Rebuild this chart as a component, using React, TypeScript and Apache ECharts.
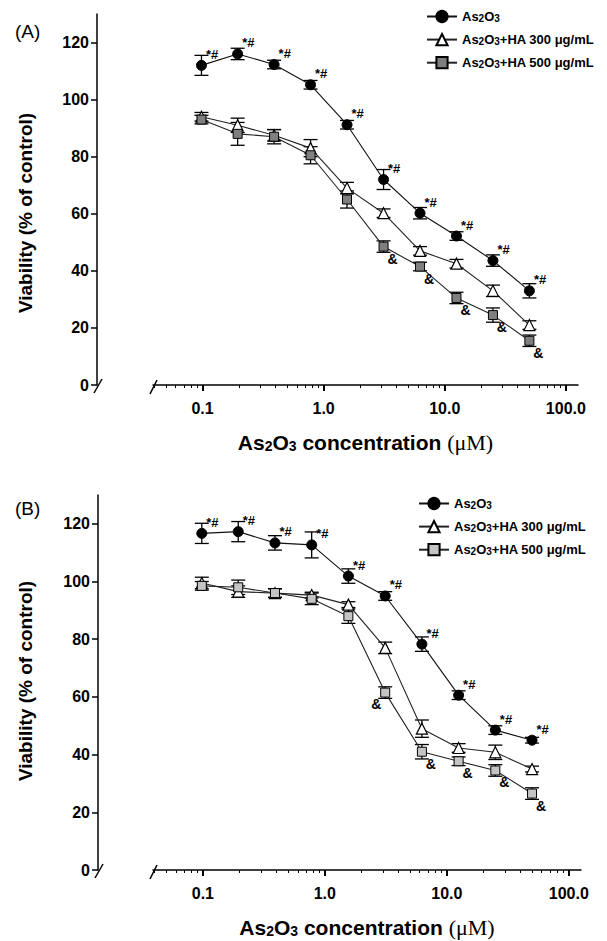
import React, { useEffect, useRef } from "react";
import * as echarts from "echarts";

// ---------- data ----------
const CONC = [0.098, 0.195, 0.39, 0.78, 1.56, 3.125, 6.25, 12.5, 25, 50];

const A_AS2O3 = [112, 116, 112.3, 105.2, 91.2, 72, 60.2, 52.2, 43.6, 33];
const A_AS2O3_ERR = [3.5, 2, 1.5, 1.5, 1.5, 3.5, 2, 1.5, 2, 2.5];
const A_HA300 = [94, 91, 87.5, 83, 69, 60.2, 47, 42.5, 33, 21];
const A_HA300_ERR = [1.5, 2.5, 2, 3, 2, 1.5, 1.5, 1.5, 2, 1.5];
const A_HA500 = [93, 88, 87, 80.5, 65, 48.5, 41.5, 30.5, 24.5, 15.5];
const A_HA500_ERR = [1.5, 4, 2.5, 3, 3, 2, 1.5, 2, 2.5, 2];

const B_AS2O3 = [116.7, 117.3, 113.4, 112.7, 101.9, 95, 78.3, 60.6, 48.5, 45];
const B_AS2O3_ERR = [3.5, 3.5, 2.5, 4.5, 2.5, 1.5, 2.5, 1.5, 1.5, 1];
const B_HA300 = [99.5, 96.5, 96, 95.3, 92, 77, 49, 42.3, 40.8, 35];
const B_HA300_ERR = [2, 2, 1.5, 1, 1, 2, 3, 1.5, 2.5, 1];
const B_HA500 = [98.5, 98, 96, 94, 88, 61.5, 41, 37.7, 34.5, 26.5];
const B_HA500_ERR = [1.5, 2.5, 1.5, 2, 2.5, 2, 2.5, 1.5, 2, 2];

// marks: which points carry "*#" / "&"
const STAR_MARK = [1, 1, 1, 1, 1, 1, 1, 1, 1, 1];
const AMP_MARK = [0, 0, 0, 0, 0, 1, 1, 1, 1, 1];

const Y_TICKS = [0, 20, 40, 60, 80, 100, 120];
const X_TICKS = [0.1, 1, 10, 100];
const X_MINOR_TICKS = [
  0.04, 0.05, 0.06, 0.07, 0.08, 0.09,
  0.2, 0.3, 0.4, 0.5, 0.6, 0.7, 0.8, 0.9,
  2, 3, 4, 5, 6, 7, 8, 9,
  20, 30, 40, 50, 60, 70, 80, 90,
];

const LEGEND_LABELS = [
  "As{s|2}O{s|3}",
  "As{s|2}O{s|3}+HA 300 μg/mL",
  "As{s|2}O{s|3}+HA 500 μg/mL",
];
const Y_TITLE = "Viability (% of control)";
const X_TITLE = "As{s|2}O{s|3} concentration {m|(μM)}";

// ---------- layout ----------
const FONT = "'Liberation Sans', Arial, Helvetica, sans-serif";
const X_MIN = 0.039;
const X_MAX = 126;
const Y_MAX = 130;

const PANELS = [
  { key: "A", left: 153, width: 425, top: 14, height: 371, yOffset: 56, legendLeft: 421, legendTop: 0, labelTop: 17, sqColor: "#7f7f7f", yTitleX: 25, yTitleY: 213 },
  { key: "B", left: 153, width: 428, top: 495, height: 375, yOffset: 55, legendLeft: 413, legendTop: 487, labelTop: 494, sqColor: "#c4c4c4", yTitleX: 25, yTitleY: 681 },
];

export default function App() {
  const ref = useRef<HTMLDivElement>(null);

  useEffect(() => {
    if (!ref.current) return;
    const chart = echarts.init(ref.current, null, { renderer: "svg" });

    const grid: any[] = [];
    const xAxis: any[] = [];
    const yAxis: any[] = [];
    const series: any[] = [];
    const legend: any[] = [];
    const title: any[] = [];
    const graphic: any[] = [];

    const richSub = {
      s: { fontSize: 10, fontWeight: "bold", fontFamily: FONT, color: "#000", padding: [8, 0, 0, 0], lineHeight: 10, verticalAlign: "bottom" },
    };

    const dataSets = [
      [A_AS2O3, A_AS2O3_ERR, A_HA300, A_HA300_ERR, A_HA500, A_HA500_ERR],
      [B_AS2O3, B_AS2O3_ERR, B_HA300, B_HA300_ERR, B_HA500, B_HA500_ERR],
    ];

    PANELS.forEach((p, pi) => {
      grid.push({ left: p.left, top: p.top, width: p.width, height: p.height, containLabel: false });
      const xi = pi * 2;
      xAxis.push({
        type: "log",
        gridIndex: pi,
        position: "bottom",
        min: X_MIN,
        max: X_MAX,
        logBase: 10,
        name: X_TITLE,
        nameLocation: "middle",
        nameGap: 46,
        nameTextStyle: {
          fontSize: 21, fontWeight: "bold", fontFamily: FONT, color: "#000",
          rich: {
            s: { fontSize: 14, fontWeight: "bold", fontFamily: FONT, color: "#000", padding: [11, 0, 0, 0], lineHeight: 14, verticalAlign: "bottom" },
            m: { fontSize: 22, fontFamily: "'Liberation Serif', 'Times New Roman', serif", color: "#000", fontWeight: "normal" },
          },
        },
        axisLine: { show: true, lineStyle: { color: "#000", width: 1.5 } },
        axisTick: { show: true, length: 6, customValues: X_TICKS, lineStyle: { color: "#000", width: 2 } },
        axisLabel: {
          show: true, customValues: X_TICKS, margin: 15,
          fontSize: 16, fontWeight: "bold", fontFamily: FONT, color: "#000",
          formatter: (v: number) => v.toFixed(1),
        },
        splitLine: { show: false },
      });
      xAxis.push({
        type: "log",
        gridIndex: pi,
        position: "bottom",
        min: X_MIN,
        max: X_MAX,
        logBase: 10,
        axisLine: { show: false },
        axisTick: { show: true, length: 3, customValues: X_MINOR_TICKS, lineStyle: { color: "#000", width: 1 } },
        axisLabel: { show: false },
        splitLine: { show: false },
      });
      yAxis.push({
        type: "value",
        gridIndex: pi,
        min: 0,
        max: Y_MAX,
        interval: 20,
        offset: p.yOffset,
        axisLine: { show: true, lineStyle: { color: "#000", width: 1.5 } },
        axisTick: { show: true, length: 6, customValues: Y_TICKS, lineStyle: { color: "#000", width: 1.5 } },
        axisLabel: {
          show: true, customValues: Y_TICKS, margin: 8,
          fontSize: 16, fontWeight: "bold", fontFamily: FONT, color: "#000",
        },
        splitLine: { show: false },
      });

      const [v1, e1, v2, e2, v3, e3] = dataSets[pi];
      const names = [p.key + "1", p.key + "2", p.key + "3"];

      const errSeries = (vals: number[], errs: number[]) => ({
        type: "custom",
        xAxisIndex: xi,
        yAxisIndex: pi,
        silent: true,
        z: 2,
        encode: { x: 0, y: [1, 2] },
        data: CONC.map((c, i) => [c, vals[i] - errs[i], vals[i] + errs[i]]),
        renderItem: (params: any, api: any) => {
          const lo = api.coord([api.value(0), api.value(1)]);
          const hi = api.coord([api.value(0), api.value(2)]);
          const w = 7;
          const st = { stroke: "#000", lineWidth: 1.3 };
          return {
            type: "group",
            children: [
              { type: "line", shape: { x1: lo[0], y1: lo[1], x2: hi[0], y2: hi[1] }, style: st },
              { type: "line", shape: { x1: lo[0] - w, y1: lo[1], x2: lo[0] + w, y2: lo[1] }, style: st },
              { type: "line", shape: { x1: hi[0] - w, y1: hi[1], x2: hi[0] + w, y2: hi[1] }, style: st },
            ],
          };
        },
      });

      const labelStar = {
        show: true, formatter: "*#", position: "right", distance: 0, offset: [-1, -11],
        fontSize: 13, fontWeight: "bold", fontFamily: FONT, color: "#000",
      };
      const labelAmp = (i: number) => ({
        show: true, formatter: "&", position: "bottom", distance: 1,
        offset: pi === 1 && i === 5 ? [-9, -2] : [9, -1],
        fontSize: 14, fontWeight: "bold", fontFamily: FONT, color: "#000",
      });

      series.push(errSeries(v1, e1), errSeries(v2, e2), errSeries(v3, e3));

      series.push({
        type: "line", name: names[0], xAxisIndex: xi, yAxisIndex: pi, z: 4,
        symbol: "circle", symbolSize: 10,
        itemStyle: { color: "#000", borderColor: "#000", borderWidth: 1 },
        lineStyle: { color: "#111", width: 1.1 },
        data: CONC.map((c, i) => ({ value: [c, v1[i]], label: STAR_MARK[i] ? labelStar : { show: false } })),
      });
      series.push({
        type: "line", name: names[1], xAxisIndex: xi, yAxisIndex: pi, z: 4,
        symbol: "triangle", symbolSize: 11,
        itemStyle: { color: "#fff", borderColor: "#000", borderWidth: 1.2 },
        lineStyle: { color: "#222", width: 1.1 },
        data: CONC.map((c, i) => [c, v2[i]]),
      });
      series.push({
        type: "line", name: names[2], xAxisIndex: xi, yAxisIndex: pi, z: 4,
        symbol: "rect", symbolSize: 9,
        itemStyle: { color: p.sqColor, borderColor: "#000", borderWidth: 1 },
        lineStyle: { color: "#222", width: 1.1 },
        data: CONC.map((c, i) => ({ value: [c, v3[i]], label: AMP_MARK[i] ? labelAmp(i) : { show: false } })),
      });

      legend.push({
        left: p.legendLeft,
        top: p.legendTop,
        orient: "vertical",
        itemGap: 5,
        itemWidth: 30,
        itemHeight: 14,
        selectedMode: false,
        data: names,
        formatter: (n: string) => LEGEND_LABELS[names.indexOf(n)],
        textStyle: { fontSize: 13, fontWeight: "bold", fontFamily: FONT, color: "#000", rich: richSub },
      });

      title.push({
        text: "(" + p.key + ")",
        left: 10,
        top: p.labelTop,
        textStyle: { fontSize: 19, fontWeight: "normal", fontFamily: FONT, color: "#000" },
      });

      // y axis title
      graphic.push({
        type: "text",
        x: p.yTitleX,
        y: p.yTitleY,
        rotation: Math.PI / 2,
        style: {
          text: Y_TITLE,
          fontSize: 19,
          fontWeight: "bold",
          fontFamily: FONT,
          fill: "#000",
          align: "center",
          verticalAlign: "middle",
        },
      });

      // axis break marks
      const yAxisX = p.left - p.yOffset;
      const baseY = p.top + p.height;
      graphic.push(
        { type: "line", shape: { x1: yAxisX - 3, y1: baseY + 8, x2: yAxisX + 5, y2: baseY - 6 }, style: { stroke: "#000", lineWidth: 1.5 } },
        { type: "line", shape: { x1: p.left - 3, y1: baseY + 9, x2: p.left + 4, y2: baseY - 5 }, style: { stroke: "#000", lineWidth: 1.5 } },
      );
    });

    chart.setOption({
      animation: false,
      backgroundColor: "#fff",
      title,
      grid,
      xAxis,
      yAxis,
      legend,
      series,
      graphic,
    });

    return () => chart.dispose();
  }, []);

  return (
    <div
      ref={ref}
      style={{ position: "fixed", left: 0, top: 0, width: 607, height: 941, background: "#fff" }}
    />
  );
}
